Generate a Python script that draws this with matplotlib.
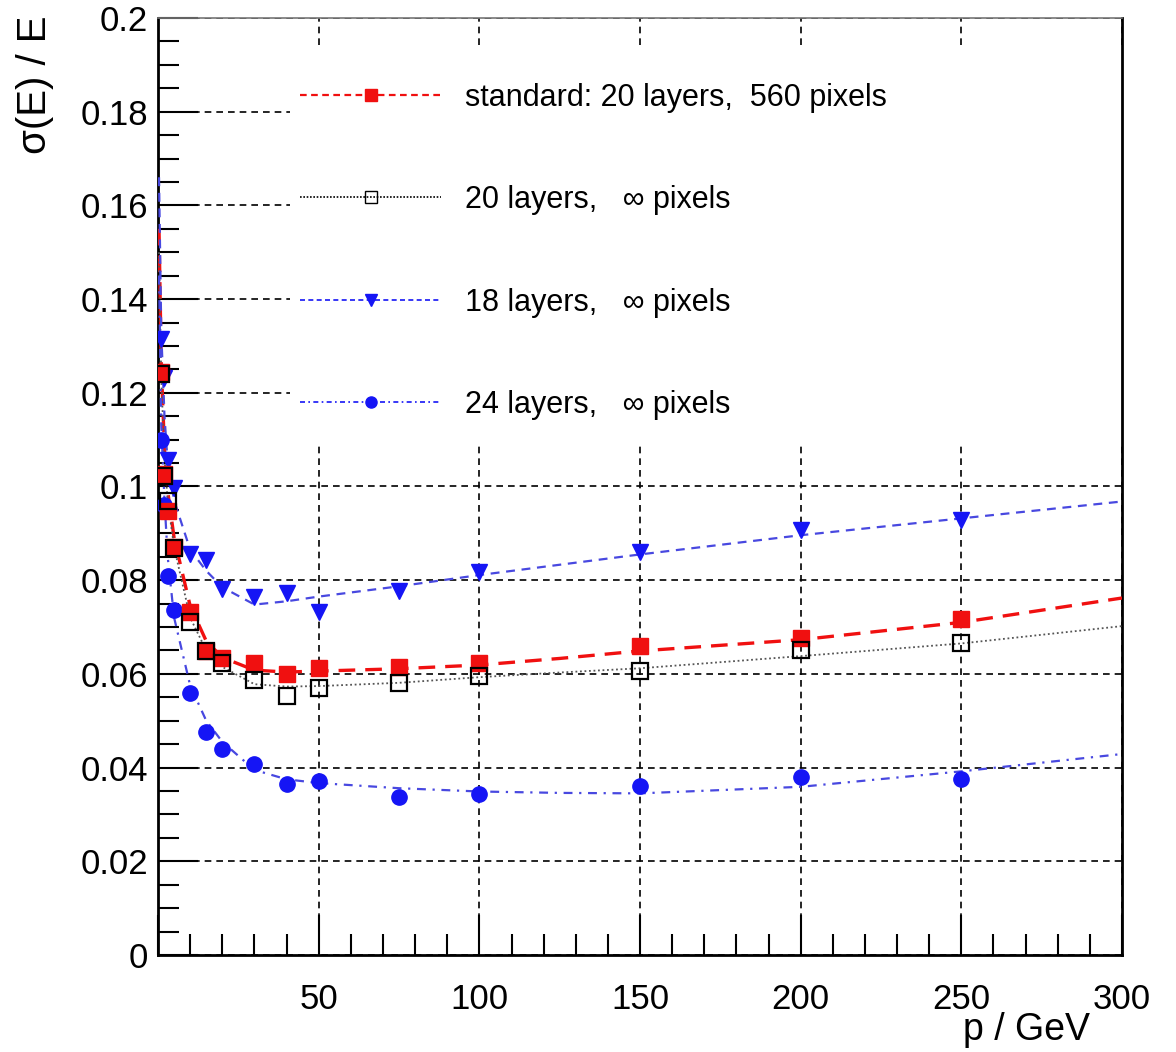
import matplotlib
matplotlib.use('Agg')
import matplotlib.pyplot as plt
from matplotlib.lines import Line2D
from matplotlib.patches import Rectangle
from matplotlib.ticker import MultipleLocator, FuncFormatter

plt.rcParams['font.family'] = ['Liberation Sans', 'DejaVu Sans']

# measured points: momentum in GeV
p = [1, 2, 3, 5, 10, 15, 20, 30, 40, 50, 75, 100, 150, 200, 250]
res_std = [0.1245, 0.1027, 0.0948, 0.0871, 0.0733, 0.0649, 0.0633, 0.0623, 0.0599, 0.0612,
           0.0615, 0.0623, 0.0660, 0.0676, 0.0717]
res_20 = [0.1240, 0.1022, 0.0970, 0.0868, 0.0710, 0.0648, 0.0623, 0.0588, 0.0553, 0.0569,
          0.0581, 0.0596, 0.0607, 0.0650, 0.0665]
res_18 = [0.1315, 0.1232, 0.1057, 0.0997, 0.0855, 0.0843, 0.0781, 0.0765, 0.0772, 0.0733,
          0.0777, 0.0818, 0.0861, 0.0907, 0.0929]
res_24 = [0.1099, 0.0961, 0.0809, 0.0736, 0.0559, 0.0477, 0.0439, 0.0408, 0.0365, 0.0372,
          0.0338, 0.0344, 0.0361, 0.0381, 0.0375]

# fit curves
fit_p = [0.3, 1, 2, 3, 5, 10, 15, 20, 30, 40, 50, 75, 100, 125, 150, 200, 250, 300]
fit_std = [0.155, 0.126, 0.108, 0.099, 0.089, 0.0745, 0.067, 0.0635, 0.0608, 0.0604, 0.0606,
           0.0611, 0.0619, 0.0633, 0.0649, 0.0673, 0.0710, 0.0762]
fit_20 = [0.150, 0.123, 0.106, 0.097, 0.087, 0.072, 0.065, 0.0615, 0.0578, 0.0573, 0.0574,
          0.0581, 0.0593, 0.0603, 0.0612, 0.0638, 0.0665, 0.0702]
fit_18 = [0.166, 0.133, 0.115, 0.105, 0.097, 0.0865, 0.082, 0.0785, 0.0748, 0.0755, 0.0765,
          0.0787, 0.0811, 0.0833, 0.0855, 0.0896, 0.0932, 0.0968]
fit_24 = [0.145, 0.113, 0.097, 0.085, 0.072, 0.0575, 0.050, 0.0455, 0.0395, 0.0375, 0.0367,
          0.0356, 0.0349, 0.0346, 0.0345, 0.0359, 0.0392, 0.0429]

labels = ['standard: 20 layers,  560 pixels', '20 layers,   \u221e pixels',
          '18 layers,   \u221e pixels', '24 layers,   \u221e pixels']

red = '#f01010'
blue = '#1515f5'
lblue = '#4848e0'

fig = plt.figure(figsize=(11.76, 10.52), dpi=100)
ax = fig.add_axes([0.1344, 0.0922, 0.8197, 0.8907])

# curves
ax.plot(fit_p, fit_std, color=red, ls=(0, (5, 3)), lw=2.4, zorder=3)
ax.plot(fit_p, fit_20, color='#555555', ls=(0, (1, 1.5)), lw=1.3, zorder=3)
ax.plot(fit_p, fit_18, color=lblue, ls=(0, (4, 3)), lw=1.6, zorder=3)
ax.plot(fit_p, fit_24, color=lblue, ls=(0, (4, 3, 1, 3)), lw=1.6, zorder=3)

# points
ax.plot(p, res_24, 'o', color=blue, ms=11, mec=blue, zorder=4)
ax.plot(p, res_18, 'v', color=blue, ms=11, mec=blue, zorder=4)
ax.plot(p, res_std, 's', color=red, ms=11, mec=red, zorder=4)
ax.plot(p, res_20, 's', mfc='none', mec='black', mew=1.6, ms=11, zorder=5)

ax.set_xlim(0, 300)
ax.set_ylim(0, 0.2)

ax.xaxis.set_major_locator(MultipleLocator(50))
ax.xaxis.set_minor_locator(MultipleLocator(10))
ax.yaxis.set_major_locator(MultipleLocator(0.02))
ax.yaxis.set_minor_locator(MultipleLocator(0.005))
ax.xaxis.set_major_formatter(FuncFormatter(lambda v, _: '' if v == 0 else '%g' % v))
ax.yaxis.set_major_formatter(FuncFormatter(lambda v, _: '%g' % round(v, 3)))

ax.tick_params(which='both', direction='in', top=False, right=False, width=1.5, labelsize=25)
ax.tick_params(which='major', length=29)
ax.tick_params(which='minor', length=15)
ax.tick_params(axis='y', pad=7)
ax.tick_params(axis='x', pad=20)

ax.set_axisbelow(True)
ax.grid(True, which='major', color='black', ls=(0, (4, 3)), lw=1.2)
for s in ax.spines.values():
    s.set_linewidth(2)
ax.spines['top'].set_color('#777777')
ax.spines['top'].set_linewidth(1.2)

# white box behind legend hides the grid
ax.add_patch(Rectangle((0.137, 0.544), 0.863, 0.427, transform=ax.transAxes,
                       fc='white', ec='none', zorder=1))

handles = [
    Line2D([], [], color=red, ls=(0, (3, 2)), lw=1.6, marker='s', ms=8, mec=red),
    Line2D([], [], color='black', ls=(0, (1, 1)), lw=1.2, marker='s', ms=8, mfc='none', mec='black'),
    Line2D([], [], color=blue, ls=(0, (3, 2)), lw=1.2, marker='v', ms=8, mec=blue),
    Line2D([], [], color=blue, ls=(0, (3, 2, 1, 2)), lw=1.2, marker='o', ms=8, mec=blue),
]
ax.legend(handles, labels, loc='upper left', bbox_to_anchor=(0.135, 0.944),
          frameon=False, fontsize=22, handlelength=4.6, handletextpad=0.8,
          labelspacing=2.37, borderaxespad=0)

fig.text(35 / 1176, 1 - 16 / 1052, '\u03c3(E) / E', rotation=90, ha='center', va='top', fontsize=29)
fig.text(1090 / 1176, 1 - 1030 / 1052, 'p / GeV', ha='right', va='center', fontsize=27)

plt.savefig('out.png', dpi=100)
